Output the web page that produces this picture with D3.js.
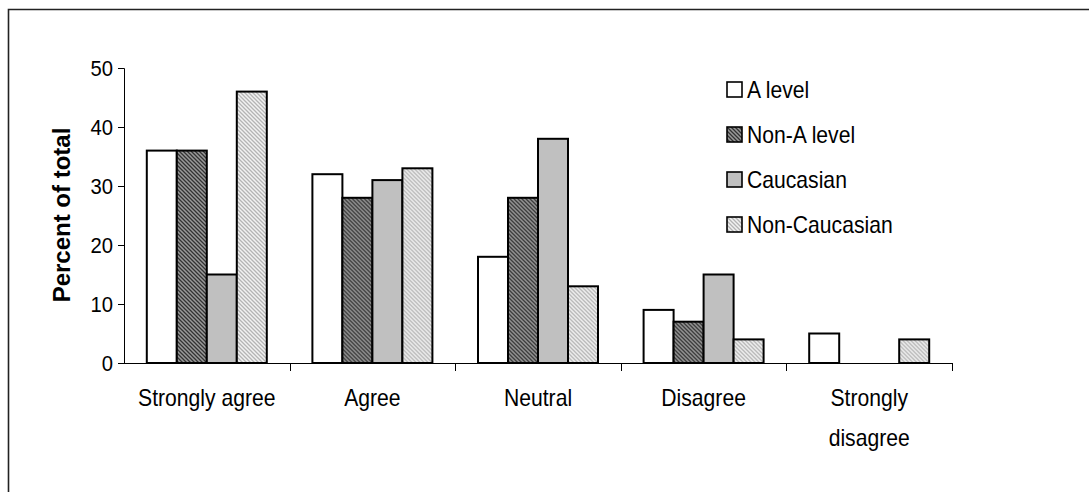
<!DOCTYPE html>
<html>
<head>
<meta charset="utf-8">
<script src="https://cdn.jsdelivr.net/npm/d3@7/dist/d3.min.js"></script>
<style>
  html, body { margin: 0; padding: 0; background: #fff; }
  svg { display: block; }
  text { font-family: "Liberation Sans", Arial, sans-serif; fill: #000; }
</style>
</head>
<body>
<svg id="chart" width="1089" height="492"></svg>
<script>
// Survey responses, percent of total per group
const categories = ["Strongly agree", "Agree", "Neutral", "Disagree", "Strongly disagree"];
const seriesNames = ["A level", "Non-A level", "Caucasian", "Non-Caucasian"];
const aLevel       = [36, 32, 18, 9, 5];
const nonALevel    = [36, 28, 28, 7, 0];
const caucasian    = [15, 31, 38, 15, 0];
const nonCaucasian = [46, 33, 13, 4, 4];
const yTicks = [0, 10, 20, 30, 40, 50];

const seriesValues = [aLevel, nonALevel, caucasian, nonCaucasian];
const fills = ["#ffffff", "url(#hatchDark)", "#c0c0c0", "url(#hatchLight)"];
const squeeze = 0.92; // narrow glyph look

const svg = d3.select("#chart");

// hatch fills
const defs = svg.append("defs");
function hatch(id, bg, line) {
  const p = defs.append("pattern")
    .attr("id", id).attr("patternUnits", "userSpaceOnUse")
    .attr("width", 4).attr("height", 4);
  p.append("rect").attr("width", 4).attr("height", 4).attr("fill", bg);
  p.append("path").attr("d", "M-1,-1 L5,5 M-1,3 L1,5 M3,-1 L5,1")
    .attr("stroke", line).attr("stroke-width", 1.3);
}
hatch("hatchDark", "#9a9a9a", "#333333");
hatch("hatchLight", "#f2f2f2", "#b4b4b4");

// outer frame
svg.append("path")
  .attr("d", "M8.5,492 L8.5,9.5 L1089,9.5")
  .attr("fill", "none").attr("stroke", "#222").attr("stroke-width", 1.6);

const x0 = d3.scaleBand().domain(categories).range([124, 952]).paddingInner(0).paddingOuter(0);
const x1 = d3.scaleBand().domain(seriesNames).range([0, x0.bandwidth()])
  .paddingInner(0).paddingOuter(0.76);
const y = d3.scaleLinear().domain([0, 50]).range([363, 68]);

// bars
const groups = svg.append("g").selectAll("g")
  .data(categories).join("g")
  .attr("transform", d => `translate(${x0(d)},0)`);

groups.selectAll("rect")
  .data((c, ci) => seriesNames.map((s, si) => ({ s, si, v: seriesValues[si][ci] })).filter(d => d.v > 0))
  .join("rect")
  .attr("x", d => x1(d.s))
  .attr("y", d => y(d.v))
  .attr("width", x1.bandwidth())
  .attr("height", d => y(0) - y(d.v))
  .attr("fill", d => fills[d.si])
  .attr("stroke", "#000")
  .attr("stroke-width", 2);

// y axis
const yAxis = svg.append("g")
  .attr("transform", "translate(124,0)")
  .call(d3.axisLeft(y).tickValues(yTicks).tickSize(6).tickPadding(6).tickFormat(d3.format("d")));
yAxis.select(".domain").attr("stroke", "#000").attr("stroke-width", 1);
yAxis.selectAll(".tick line").attr("stroke", "#000");
yAxis.selectAll(".tick text")
  .attr("font-size", 22)
  .attr("font-family", "Liberation Sans, Arial, sans-serif")
  .attr("transform", `scale(${squeeze},1)`);

// x axis line with ticks between categories
const xAxisG = svg.append("g");
xAxisG.append("line")
  .attr("x1", 124).attr("x2", 952).attr("y1", 363.5).attr("y2", 363.5)
  .attr("stroke", "#000");
const boundaries = categories.map(c => x0(c) + x0.bandwidth());
xAxisG.selectAll("line.tk").data(boundaries).join("line")
  .attr("class", "tk")
  .attr("x1", d => Math.round(d) + 0.5).attr("x2", d => Math.round(d) + 0.5)
  .attr("y1", 363).attr("y2", 371).attr("stroke", "#000");

// category labels (long ones wrap onto two lines)
const catLabels = { "Strongly disagree": ["Strongly", "disagree"] };
svg.append("g").selectAll("text")
  .data(categories).join("text")
  .attr("transform", d => `translate(${x0(d) + x0.bandwidth() / 2},406) scale(${squeeze},1)`)
  .attr("text-anchor", "middle")
  .attr("font-size", 23)
  .each(function (d) {
    const lines = catLabels[d] || [d];
    const t = d3.select(this);
    lines.forEach((ln, i) => {
      t.append("tspan").attr("x", 0).attr("dy", i === 0 ? 0 : 40).text(ln);
    });
  });

// y axis title
svg.append("text")
  .attr("transform", "translate(70,215) rotate(-90)")
  .attr("text-anchor", "middle")
  .attr("font-size", 24)
  .attr("font-weight", "bold")
  .text("Percent of total");

// legend
const legend = svg.append("g").attr("transform", "translate(727,82)");
const items = legend.selectAll("g").data(seriesNames).join("g")
  .attr("transform", (d, i) => `translate(0,${i * 45})`);
items.append("rect")
  .attr("width", 15).attr("height", 15)
  .attr("fill", (d, i) => fills[i])
  .attr("stroke", "#000").attr("stroke-width", 1.6);
items.append("text")
  .attr("transform", `translate(20,15.5) scale(${squeeze},1)`)
  .attr("font-size", 23)
  .text(d => d);
</script>
</body>
</html>
